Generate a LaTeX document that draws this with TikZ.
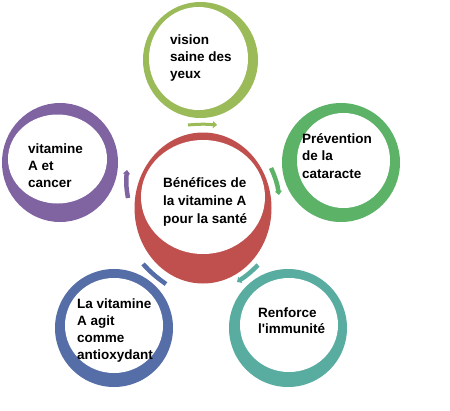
\documentclass[tikz,border=0pt]{standalone}
\usepackage{fontspec}
\setmainfont{Liberation Sans}[Ligatures=TeXOff]
\usetikzlibrary{arrows.meta}
\definecolor{cred}{RGB}{192,80,77}
\definecolor{colive}{RGB}{155,187,89}
\definecolor{cpurple}{RGB}{128,100,162}
\definecolor{cgreen}{RGB}{92,178,102}
\definecolor{cblue}{RGB}{86,110,168}
\definecolor{cteal}{RGB}{88,172,160}
\tikzset{
  lbl/.style={anchor=base west, inner sep=0pt, align=left,
    font=\bfseries\fontsize{13.5}{17}\selectfont},
  cyc/.style={line width=4.5pt, -{Triangle[length=4pt,width=7pt]}}
}
\begin{document}
\begin{tikzpicture}[x=1pt,y=-1pt]
\useasboundingbox (0,0) rectangle (450,410);
\fill[white] (0,0) rectangle (450,410);
% rings
\fill[cred] (203,208) ellipse [x radius=68.5, y radius=75.5];
\fill[white] (203,197) ellipse [x radius=62, y radius=57];
\fill[colive] (200.5,60) ellipse [x radius=57.5, y radius=58];
\fill[white] (198.5,58.5) ellipse [x radius=49.5, y radius=51.5];
\fill[cpurple] (60,162.5) ellipse [x radius=58, y radius=59.5];
\fill[white] (57.5,159) ellipse [x radius=49.5, y radius=44.5];
\fill[cgreen] (341,162.5) ellipse [x radius=59, y radius=59.5];
\fill[white] (343.5,160.5) ellipse [x radius=46.5, y radius=47.5];
\fill[cblue] (114,328) ellipse [x radius=59, y radius=59];
\fill[white] (114,325.5) ellipse [x radius=49, y radius=47.5];
\fill[cteal] (288,328) ellipse [x radius=59, y radius=59];
\fill[white] (289,325) ellipse [x radius=49, y radius=47];
% small cycle arrows
\coordinate (ta1) at (188,125); \coordinate (ta2) at (217,125);
\draw[cyc, colive, line width=3pt] (ta1) to[bend left=5] (ta2);
\coordinate (ra1) at (271,168); \coordinate (ra2) at (279,195);
\draw[cyc, cgreen] (ra1) to[bend left=8] (ra2);
\coordinate (bra1) at (258,265); \coordinate (bra2) at (237,282);
\draw[cyc, cteal] (bra1) to[bend left=6] (bra2);
\coordinate (bla1) at (143,264); \coordinate (bla2) at (166,284);
\draw[cyc, cblue, -] (bla1) to[bend right=6] (bla2);
\coordinate (la1) at (128,198); \coordinate (la2) at (127,170);
\draw[cyc, cpurple] (la1) to[bend left=8] (la2);
% texts (anchor = baseline of last line)
\node[lbl, font=\bfseries\fontsize{13.5}{18}\selectfont] (center) at (163,223) {Bénéfices de\\la vitamine A\\pour la santé};
\node[lbl] (top) at (170,78) {vision\\saine des\\yeux};
\node[lbl] (left) at (28,187) {vitamine\\A et\\cancer};
\node[lbl, font=\bfseries\fontsize{13.5}{17.5}\selectfont] (right) at (302,178) {Prévention\\de la\\cataracte};
\node[lbl, font=\bfseries\fontsize{13.5}{16.7}\selectfont] (bl) at (77,359) {La vitamine\\A agit\\comme\\antioxydant};
\node[lbl, font=\bfseries\fontsize{13.5}{16}\selectfont] (br) at (258,333) {Renforce\\l'immunité};
\end{tikzpicture}
\end{document}
